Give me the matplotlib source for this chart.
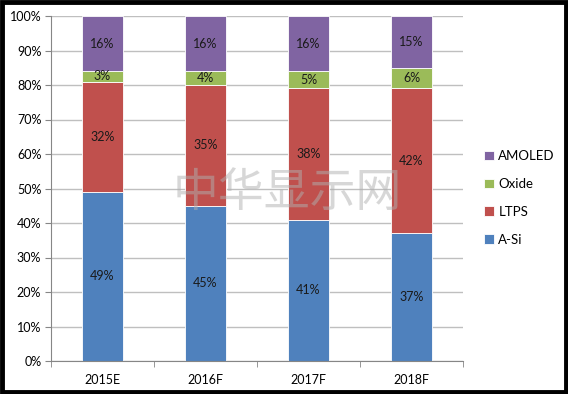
import matplotlib.pyplot as plt
from matplotlib.patches import Rectangle

plt.rcParams['font.family'] = ['Lato', 'DejaVu Sans']

categories = ['2015E', '2016F', '2017F', '2018F']
a_si = [49, 45, 41, 37]
ltps = [32, 35, 38, 42]
oxide = [3, 4, 5, 6]
amoled = [16, 16, 16, 15]

series = [('A-Si', a_si, '#4F81BD'),
          ('LTPS', ltps, '#C0504D'),
          ('Oxide', oxide, '#9BBB59'),
          ('AMOLED', amoled, '#8064A2')]

fig = plt.figure(figsize=(5.68, 3.94), dpi=100)
ax = fig.add_axes([51 / 568, 1 - 361 / 394, (463 - 51) / 568, (361 - 16) / 394])

x = range(len(categories))
bottom = [0] * len(categories)
handles = []
for name, vals, color in series:
    bars = ax.bar(x, vals, width=0.4, bottom=bottom, color=color,
                  edgecolor='white', linewidth=0.6, label=name, zorder=2)
    handles.append(bars)
    for i, v in enumerate(vals):
        ax.text(i, bottom[i] + v / 2, '%d%%' % v, ha='center', va='center',
                fontsize=9, color='#1a1a1a', zorder=4)
    bottom = [b + v for b, v in zip(bottom, vals)]

ax.set_xlim(-0.5, 3.5)
ax.set_ylim(0, 100)
ax.set_yticks(range(0, 101, 10))
ax.set_yticklabels(['%d%%' % t for t in range(0, 101, 10)], fontsize=9)
ax.set_xticks(list(x))
ax.set_xticklabels(categories, fontsize=9)
ax.set_xticks([-0.5, 0.5, 1.5, 2.5, 3.5], minor=True)
ax.tick_params(axis='x', which='major', length=0, pad=9)
ax.tick_params(axis='x', which='minor', length=4, color='#868686')
ax.tick_params(axis='y', length=4, color='#868686', pad=3)
ax.yaxis.grid(True, color='#bfbfbf', linewidth=1, zorder=0)
ax.set_axisbelow(True)
for side in ['top', 'right']:
    ax.spines[side].set_visible(False)
for side in ['left', 'bottom']:
    ax.spines[side].set_color('#868686')

leg = fig.legend(handles[::-1], [s[0] for s in series][::-1],
                 loc='center left', bbox_to_anchor=(472 / 568, 1 - 198 / 394),
                 frameon=False, fontsize=9.5, handlelength=0.75, handleheight=0.75,
                 handletextpad=0.35, labelspacing=1.2)

# watermark
fig.text(287 / 568, 1 - 193 / 394, '中华显示网', fontsize=33, color='#b0b0b0',
         alpha=0.5, ha='center', va='center',
         family=['Noto Sans CJK SC', 'DejaVu Sans'], zorder=10)

# black frame round the picture
fig.patches.append(Rectangle((1.5 / 568, 2.5 / 394), 564 / 568, 390 / 394,
                             transform=fig.transFigure, fill=False,
                             edgecolor='black', linewidth=3.5))

fig.savefig('out.png', dpi=100)
